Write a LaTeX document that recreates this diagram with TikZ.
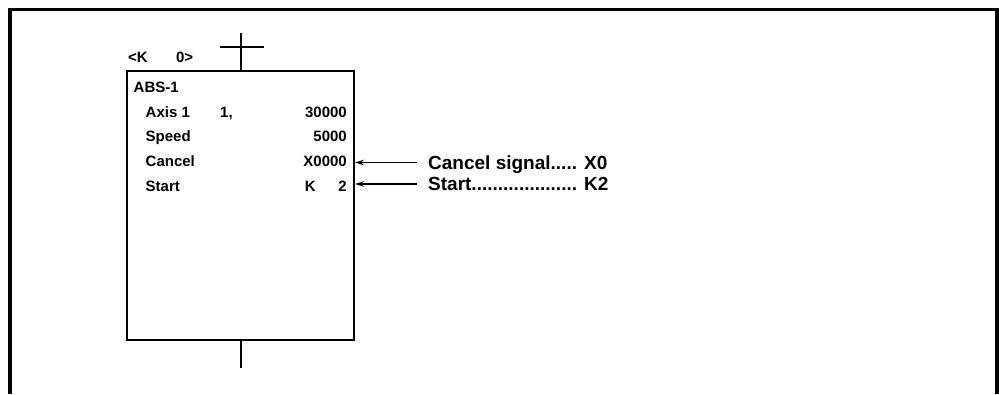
\documentclass[tikz,border=0pt]{standalone}
\usepackage{fontspec}
\setmainfont{Liberation Sans}
\usetikzlibrary{arrows.meta}
\tikzset{
  frameline/.style={line width=3.5pt},
  boxline/.style={line width=2pt},
  lbl/.style={font=\fontsize{15}{18}\selectfont\bfseries, inner sep=0pt, anchor=base west},
  val/.style={font=\fontsize{15}{18}\selectfont\bfseries, inner sep=0pt, anchor=base east},
  rlab/.style={font=\fontsize{19}{22}\selectfont\bfseries, inner sep=0pt, anchor=west, text height=13.4pt, text depth=0pt},
  arr/.style={line width=1.2pt, -{Stealth[length=9pt,width=5.5pt]}},
}
\begin{document}
\begin{tikzpicture}[x=1pt,y=-1pt]
\useasboundingbox (0,0) rectangle (999,394);
% outer frame (open at bottom)
\draw[frameline] (10,394) -- (10,9.5) -- (997,9.5) -- (997,394);
% main box
\node[draw, boxline, minimum width=227pt, minimum height=269pt, inner sep=0pt] (box) at (240.5,205.5) {};
% top stub and crossbar
\coordinate (topend) at (240.5,33);
\coordinate (barL) at (220,47.3);
\coordinate (barR) at (264,47.3);
\draw[boxline] (box.north) -- (topend);
\draw[boxline] (barL) -- (barR);
% bottom stub
\coordinate (botend) at (240.5,368);
\draw[boxline] (box.south) -- (botend);
% header
\node[lbl] (kz) at (128,62) {\makebox[65pt][s]{<K\hfill 0>}};
% box contents
\node[lbl] (abs) at (133.5,92.4) {ABS-1};
\node[lbl] (axis) at (145.5,117.1) {Axis 1};
\node[lbl] (axisn) at (220,117.1) {1,};
\node[val] (axisv) at (347,117.1) {30000};
\node[lbl] (speed) at (145.5,141.7) {Speed};
\node[val] (speedv) at (347,141.7) {5000};
\node[lbl] (cancel) at (145.5,166.4) {Cancel};
\node[val] (cancelv) at (347,166.4) {X0000};
\node[lbl] (start) at (145.5,191) {Start};
\node[val] (startv) at (347,191) {\makebox[42pt][s]{K\hfill 2}};
% right labels
\node[rlab] (cs) at (428,162.5) {Cancel signal..... X0};
\node[rlab] (st) at (428,184) {Start.................... K2};
\draw[arr] ([xshift=-11pt]cs.west) -- (cs.west -| box.east);
\draw[arr] ([xshift=-11pt]st.west) -- (st.west -| box.east);
\end{tikzpicture}
\end{document}
